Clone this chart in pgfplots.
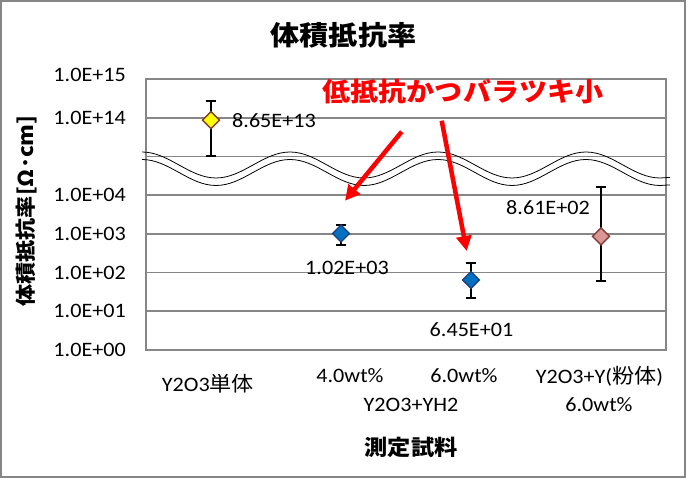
\documentclass[border=0pt]{standalone}
\usepackage{fontspec}
\setmainfont{Carlito}[FakeStretch=1.08]
\newfontfamily\jp{Noto Sans CJK JP}[FakeStretch=1.08]
\usepackage{pgfplots}
\pgfplotsset{compat=1.18}
\usetikzlibrary{arrows.meta}
\definecolor{gridgray}{HTML}{868686}
\definecolor{yfill}{HTML}{FFFF00}
\definecolor{yedge}{HTML}{7F3F1F}
\definecolor{bfill}{HTML}{0070C0}
\definecolor{bedge}{HTML}{1F3F7F}
\definecolor{pfill}{HTML}{D99694}
\definecolor{pedge}{HTML}{843C39}
\definecolor{redtxt}{HTML}{FF0000}

% y = position on the broken log axis (0..4 -> 1E0..1E4, 6..7 -> 1E14..1E15)
\pgfplotstableread{
x y ep em
0 5.937 0.483 0.927
}\tyellow
\pgfplotstableread{
x y ep em
1 3.009 0.221 0.299
2 1.810 0.430 0.474
}\tblue
\pgfplotstableread{
x y ep em
3 2.935 1.265 1.145
}\tpink

\newcommand{\tl}{\fontsize{20.5}{24}\selectfont}
\newcommand{\jt}{\jp\fontsize{20.5}{24}\selectfont}

\begin{document}
\begin{tikzpicture}
\useasboundingbox (-146pt,-128pt) rectangle (540pt,350pt);
\draw[gridgray, line width=1.5pt] (-145pt,-127pt) rectangle (539pt,349pt);
\begin{axis}[
  scale only axis, width=520pt, height=271pt,
  xmin=-0.5, xmax=3.5, ymin=0, ymax=7,
  xtick=\empty,
  ytick={0,1,2,3,4,5,6},
  yticklabels={1.0E+00,1.0E+01,1.0E+02,1.0E+03,1.0E+04,,1.0E+14},
  extra y ticks={7},
  extra y tick labels={1.0E+15},
  extra y tick style={yticklabel style={yshift=4pt}},
  ymajorgrids,
  major grid style={gridgray, line width=1.6pt},
  axis line style={gridgray, line width=1.6pt},
  major tick length=0pt,
  yticklabel style={font=\tl, inner sep=0pt, anchor=east, xshift=-20pt},
  clip=false,
]
\addplot[only marks, mark=square*, mark size=6pt,
  mark options={rotate=45, fill=yfill, draw=yedge, line width=1.3pt},
  error bars/.cd, y dir=both, y explicit,
  error bar style={black, line width=2pt},
  error mark options={rotate=90, mark size=5pt, black, line width=2pt}]
  table[x=x, y=y, y error plus=ep, y error minus=em]{\tyellow};
\addplot[only marks, mark=square*, mark size=6pt,
  mark options={rotate=45, fill=bfill, draw=bedge, line width=1.3pt},
  error bars/.cd, y dir=both, y explicit,
  error bar style={black, line width=2pt},
  error mark options={rotate=90, mark size=5pt, black, line width=2pt}]
  table[x=x, y=y, y error plus=ep, y error minus=em]{\tblue};
\addplot[only marks, mark=square*, mark size=6pt,
  mark options={rotate=45, fill=pfill, draw=pedge, line width=1.3pt},
  error bars/.cd, y dir=both, y explicit,
  error bar style={black, line width=2pt},
  error mark options={rotate=90, mark size=5pt, black, line width=2pt}]
  table[x=x, y=y, y error plus=ep, y error minus=em]{\tpink};
\end{axis}
% axis break waves
\draw[black, line width=0.8pt] (-4pt,198pt) cos (33pt,185pt) sin (70pt,172pt) cos (107pt,185pt) sin (144pt,198pt) cos (181pt,185pt) sin (218pt,172pt) cos (255pt,185pt) sin (292pt,198pt) cos (329pt,185pt) sin (366pt,172pt) cos (403pt,185pt) sin (440pt,198pt) cos (477pt,185pt) sin (514pt,172pt) -- (524pt,172.6pt);
\draw[black, line width=0.8pt] (-4pt,190.5pt) cos (33pt,177.5pt) sin (70pt,164.5pt) cos (107pt,177.5pt) sin (144pt,190.5pt) cos (181pt,177.5pt) sin (218pt,164.5pt) cos (255pt,177.5pt) sin (292pt,190.5pt) cos (329pt,177.5pt) sin (366pt,164.5pt) cos (403pt,177.5pt) sin (440pt,190.5pt) cos (477pt,177.5pt) sin (514pt,164.5pt) -- (524pt,165.1pt);
% data labels
\node[anchor=west, inner sep=0pt, font=\tl] at (86pt,229pt) {8.65E+13};
\node[inner sep=0pt, font=\tl] at (201pt,82pt) {1.02E+03};
\node[inner sep=0pt, font=\tl] at (325.5pt,20pt) {6.45E+01};
\node[inner sep=0pt, font=\tl] at (402pt,142pt) {8.61E+02};
% arrows and annotation
\draw[redtxt, line width=4.5pt, -{Triangle[length=15pt,width=15pt]}] (255.7pt,218.3pt) -- (199pt,149.3pt);
\draw[redtxt, line width=4.5pt, -{Triangle[length=15pt,width=15pt]}] (295.7pt,229.3pt) -- (320.7pt,99pt);
\node[inner sep=0pt, text=redtxt, font=\jp\bfseries\fontsize{26}{30}\selectfont] at (317pt,258.5pt) {低抵抗かつバラツキ小};
% title
\node[inner sep=0pt, font=\jp\bfseries\fontsize{27}{30}\selectfont] at (197.5pt,314.7pt) {体積抵抗率};
% x labels
\node[inner sep=0pt] at (62pt,-34pt) {\tl Y2O3{\jt 単体}};
\node[inner sep=0pt] at (204pt,-26pt) {\tl 4.0wt\%};
\node[inner sep=0pt] at (318pt,-26pt) {\tl 6.0wt\%};
\node[inner sep=0pt] at (453.5pt,-26pt) {\tl Y2O3+Y({\jt 粉体})};
\node[inner sep=0pt] at (265pt,-55pt) {\tl Y2O3+YH2};
\node[inner sep=0pt] at (453pt,-55pt) {\tl 6.0wt\%};
% axis titles
\node[inner sep=0pt, font=\jp\bfseries\fontsize{21.5}{24}\selectfont] at (265pt,-97pt) {測定試料};
\node[inner sep=0pt, rotate=90, font=\jp\bfseries\fontsize{20.5}{24}\selectfont] at (-119pt,139pt) {体積抵抗率[Ω･cm]};
\end{tikzpicture}
\end{document}
